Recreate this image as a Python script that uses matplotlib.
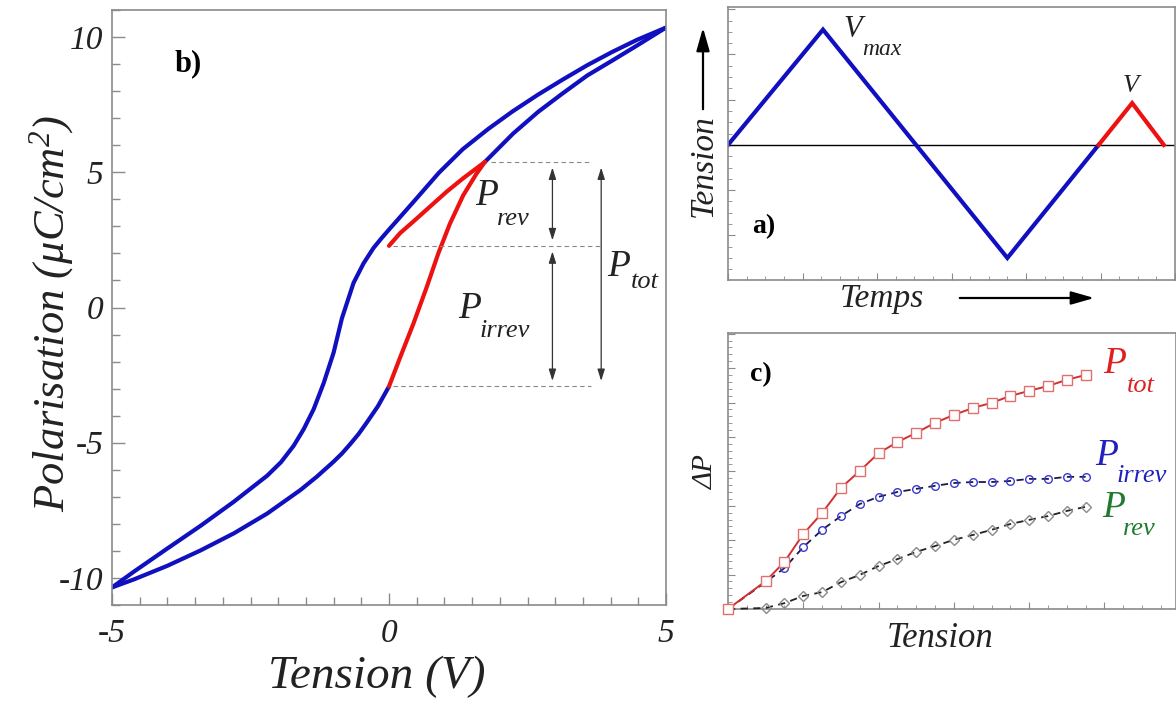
import matplotlib
matplotlib.use("Agg")
import matplotlib.pyplot as plt
from matplotlib.patches import FancyArrowPatch
from matplotlib.ticker import MultipleLocator

# fonts: Times-like italic everywhere
plt.rcParams["font.family"] = ["Liberation Serif", "DejaVu Serif"]
plt.rcParams["font.style"] = "italic"
plt.rcParams["mathtext.fontset"] = "custom"
plt.rcParams["mathtext.it"] = "Liberation Serif:italic"
plt.rcParams["mathtext.rm"] = "Liberation Serif:italic"
plt.rcParams["axes.unicode_minus"] = False

# ---- data: panel b (hysteresis loop, V / uC/cm2) ----
V_upper = [-5.0, -4.6, -4.0, -3.4, -2.8, -2.2, -1.95, -1.72, -1.54, -1.36, -1.18, -1.0,
           -0.85, -0.64, -0.46, -0.28, -0.14, 0.0, 0.44, 0.9, 1.33, 1.79, 2.23, 2.69,
           3.13, 3.58, 4.03, 4.48, 5.0]
P_upper = [-10.35, -9.76, -8.91, -8.07, -7.18, -6.22, -5.72, -5.11, -4.5, -3.76, -2.8, -1.67,
           -0.4, 0.91, 1.63, 2.2, 2.55, 2.88, 3.9, 4.98, 5.85, 6.6, 7.25, 7.87,
           8.42, 8.96, 9.45, 9.9, 10.35]

V_lower = [-5.0, -4.6, -4.0, -3.4, -2.8, -2.2, -1.6, -1.3, -1.0, -0.85, -0.7, -0.55,
           -0.4, -0.2, 0.0]
P_lower = [-10.35, -10.05, -9.55, -8.98, -8.35, -7.62, -6.75, -6.25, -5.7, -5.4, -5.05, -4.68,
           -4.25, -3.65, -2.92]

V_lower2 = [1.73, 2.24, 2.69, 3.13, 3.58, 4.03, 4.48, 5.0]
P_lower2 = [5.38, 6.43, 7.23, 7.91, 8.58, 9.13, 9.69, 10.35]

V_red_up = [0.0, 0.2, 0.44, 0.68, 0.89, 1.1, 1.34, 1.58, 1.73]
P_red_up = [-2.92, -1.85, -0.6, 0.75, 2.0, 3.1, 4.15, 4.95, 5.38]

V_red_down = [1.73, 1.34, 1.04, 0.74, 0.44, 0.2, 0.0]
P_red_down = [5.38, 4.78, 4.28, 3.73, 3.18, 2.75, 2.28]

P_top = 5.38
P_mid = 2.28
P_bot = -2.92

# ---- data: panel a (voltage vs time) ----
t_blue = [0, 5.1, 15.0, 19.9]
v_blue = [0, 10.2, -10.0, 0]
t_red = [19.9, 21.7, 23.4]
v_red = [0, 3.7, 0]

# ---- data: panel c (delta P vs tension) ----
x_c = [0, 2, 3, 4, 5, 6, 7, 8, 9, 10, 11, 12, 13, 14, 15, 16, 17, 18, 19]
P_tot = [0, 0.81, 1.37, 2.18, 2.79, 3.52, 4.01, 4.53, 4.85, 5.12, 5.41, 5.64, 5.84,
         5.99, 6.19, 6.34, 6.48, 6.66, 6.80]
P_irrev = [0, 0.78, 1.19, 1.80, 2.30, 2.70, 3.05, 3.26, 3.40, 3.49, 3.58, 3.66, 3.69,
           3.69, 3.72, 3.78, 3.78, 3.84, 3.84]
P_rev = [0, 0.03, 0.17, 0.38, 0.49, 0.78, 0.99, 1.25, 1.45, 1.66, 1.83, 2.01, 2.15,
         2.30, 2.47, 2.59, 2.70, 2.85, 2.97]

W, H = 1176, 702


def fx(x):
    return x / W


def fy(y):
    return 1 - y / H


def plabel(x, y, sub, color, dx, dy, size=27, subsize=19):
    # P with a dropped subscript, positions in pixels
    fig.text(fx(x), fy(y), "P", fontsize=size, color=color, va="baseline")
    fig.text(fx(x + dx), fy(y + dy), sub, fontsize=subsize, color=color, va="baseline")


def fig_arrow(p0, p1):
    fig.patches.append(FancyArrowPatch(
        (fx(p0[0]), fy(p0[1])), (fx(p1[0]), fy(p1[1])), transform=fig.transFigure,
        arrowstyle="-|>,head_length=0.7,head_width=0.2", mutation_scale=20,
        color="black", lw=1.6))


fig = plt.figure(figsize=(11.76, 7.02), dpi=100)

spine_col = "#8a8a8a"

# ================= panel b =================
axb = fig.add_axes([fx(112), fy(605), fx(666) - fx(112), (605 - 10) / H])
axb.plot(V_upper, P_upper, color="#1010c0", lw=3, solid_capstyle="round")
axb.plot(V_lower, P_lower, color="#1010c0", lw=3, solid_capstyle="round")
axb.plot(V_lower2, P_lower2, color="#1010c0", lw=3, solid_capstyle="round")
axb.plot(V_red_up, P_red_up, color="#ee1111", lw=3, solid_capstyle="round")
axb.plot(V_red_down, P_red_down, color="#ee1111", lw=3, solid_capstyle="round")

axb.hlines(P_top, 1.85, 3.65, color="#888888", lw=0.8, linestyles=(0, (4, 3)))
axb.hlines(P_mid, 0.07, 3.85, color="#888888", lw=0.8, linestyles=(0, (4, 3)))
axb.hlines(P_bot, 0.07, 3.65, color="#888888", lw=0.8, linestyles=(0, (4, 3)))

arw = dict(arrowstyle="<|-|>,head_length=0.7,head_width=0.22", color="#333333",
           lw=0.9, shrinkA=4, shrinkB=4)
axb.annotate("", xy=(2.95, P_mid), xytext=(2.95, P_top), arrowprops=arw)
axb.annotate("", xy=(2.95, P_bot), xytext=(2.95, P_mid), arrowprops=arw)
axb.annotate("", xy=(3.83, P_bot), xytext=(3.83, P_top), arrowprops=arw)

axb.set_xlim(-5, 5)
axb.set_ylim(-11, 11)
axb.set_xticks([-5, 0, 5])
axb.set_xticklabels(["-5", "0", "5"])
axb.set_yticks([-10, -5, 0, 5, 10])
axb.set_yticklabels(["-10", "-5", "0", "5", "10"])
axb.xaxis.set_minor_locator(MultipleLocator(0.5))
axb.yaxis.set_minor_locator(MultipleLocator(1))
axb.tick_params(which="both", direction="in", color=spine_col, labelsize=24,
                labelcolor="#222222")
axb.tick_params(which="major", length=9, width=1)
axb.tick_params(which="minor", length=6, width=1)
axb.tick_params(axis="x", pad=10)
axb.tick_params(axis="y", pad=6)
for s in axb.spines.values():
    s.set_color(spine_col)
    s.set_linewidth(1.2)

fig.text(fx(377), fy(688), "Tension (V)", fontsize=34, ha="center", va="baseline",
         color="#222222")
fig.text(fx(64), fy(313), "Polarisation (μC/cm$^2$)", fontsize=32, rotation=90,
         rotation_mode="anchor", ha="center", va="baseline", color="#222222")
fig.text(fx(175), fy(71), "b)", fontsize=22, style="normal", weight="bold")

plabel(475, 205, "rev", "#222222", 22, 20)
plabel(458, 318, "irrev", "#222222", 22, 19)
plabel(607, 276, "tot", "#222222", 24, 12)

# ================= panel a =================
axa = fig.add_axes([fx(728), fy(280), fx(1175) - fx(728), (280 - 7) / H])
axa.axhline(0, color="black", lw=1)
axa.plot(t_blue, v_blue, color="#1010c0", lw=3, solid_joinstyle="miter")
axa.plot(t_red, v_red, color="#ee1111", lw=3, solid_joinstyle="miter")
axa.set_xlim(0, 24)
axa.set_ylim(-11.95, 12.2)
axa.xaxis.set_major_locator(MultipleLocator(4))
axa.xaxis.set_minor_locator(MultipleLocator(1))
axa.yaxis.set_major_locator(MultipleLocator(4))
axa.yaxis.set_minor_locator(MultipleLocator(1))
axa.tick_params(which="both", direction="in", color=spine_col, labelleft=False,
                labelbottom=False)
axa.tick_params(which="major", length=5)
axa.tick_params(which="minor", length=3)
for s in axa.spines.values():
    s.set_color(spine_col)
    s.set_linewidth(1.2)

fig.text(fx(843), fy(37), "V", fontsize=22, va="baseline", color="#222222")
fig.text(fx(862), fy(55), "max", fontsize=17, va="baseline", color="#222222")
fig.text(fx(1123), fy(92), "V", fontsize=19, va="baseline", color="#222222")
fig.text(fx(752), fy(233), "a)", fontsize=20, style="normal", weight="bold")
fig.text(fx(840), fy(307), "Temps", fontsize=24, va="baseline", color="#222222")
fig.text(fx(712), fy(166), "Tension", fontsize=24, rotation=90, rotation_mode="anchor",
         ha="center", va="baseline", color="#222222")
fig_arrow((957, 298), (1097, 298))
fig_arrow((703, 112), (703, 25))

# ================= panel c =================
axc = fig.add_axes([fx(728), fy(609), fx(1176) - fx(728), (609 - 333) / H])
axc.plot(x_c, P_rev, color="#222222", lw=1.3, ls=(0, (4, 3)), marker="D", ms=5,
         mfc="none", mec="#8a8a8a", mew=1, clip_on=False, zorder=3)
axc.plot(x_c, P_irrev, color="#1a1a50", lw=1.3, ls=(0, (4, 3)), marker="o", ms=5.5,
         mfc="none", mec="#3a3ad0", mew=1, clip_on=False, zorder=4)
axc.plot(x_c, P_tot, color="#d03030", lw=1.4, marker="s", ms=7, mfc="white",
         mec="#e07070", mew=1, clip_on=False, zorder=5)
axc.set_xlim(0, 23.8)
axc.set_ylim(0, 8.02)
axc.xaxis.set_major_locator(MultipleLocator(4))
axc.xaxis.set_minor_locator(MultipleLocator(1))
axc.yaxis.set_major_locator(MultipleLocator(1))
axc.yaxis.set_minor_locator(MultipleLocator(0.2))
axc.tick_params(which="both", direction="in", color=spine_col, labelleft=False,
                labelbottom=False)
axc.tick_params(which="major", length=5)
axc.tick_params(which="minor", length=3)
for s in axc.spines.values():
    s.set_color(spine_col)
    s.set_linewidth(1.2)

fig.text(fx(750), fy(381), "c)", fontsize=20, style="normal", weight="bold")
fig.text(fx(940), fy(647), "Tension", fontsize=25, ha="center", va="baseline",
         color="#222222")
fig.text(fx(713), fy(472), "ΔP", fontsize=21, rotation=90, rotation_mode="anchor",
         ha="center", va="baseline", color="#222222")

plabel(1103, 373, "tot", "#e02020", 24, 19)
plabel(1095, 465, "irrev", "#2020c0", 22, 17)
plabel(1102, 517, "rev", "#207a30", 21, 18)

fig.savefig("out.png", dpi=100)
